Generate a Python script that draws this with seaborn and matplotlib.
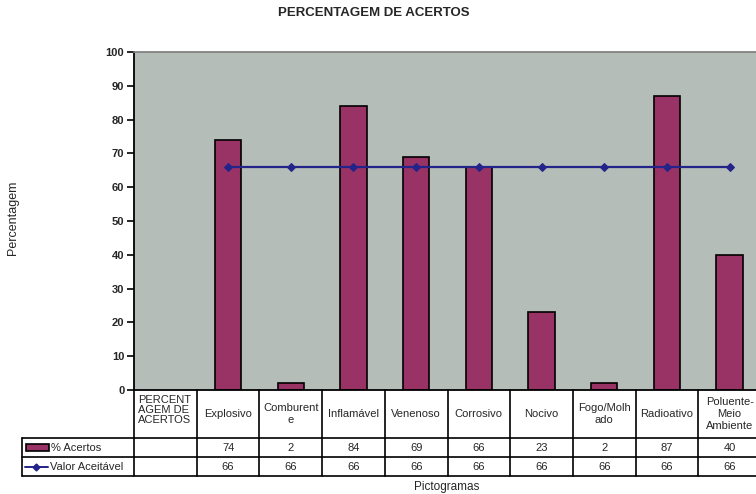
"""
Percentagem de acertos por pictograma - grafico de barras com tabela de dados.
"""
import numpy as np
import pandas as pd
import matplotlib
matplotlib.use("Agg")
import matplotlib.pyplot as plt
import seaborn as sns
from matplotlib.patches import Rectangle
from matplotlib.lines import Line2D

# Dados
categorias = [
    "PERCENTAGEM DE ACERTOS", "Explosivo", "Comburente", "Inflamável", "Venenoso",
    "Corrosivo", "Nocivo", "Fogo/Molhado", "Radioativo", "Poluente-Meio Ambiente",
]
rotulos_tabela = [
    "PERCENT\nAGEM DE\nACERTOS", "Explosivo", "Comburent\ne", "Inflamável", "Venenoso",
    "Corrosivo", "Nocivo", "Fogo/Molh\nado", "Radioativo", "Poluente-\nMeio\nAmbiente",
]
acertos = [np.nan, 74, 2, 84, 69, 66, 23, 2, 87, 40]
valor_aceitavel = [np.nan, 66, 66, 66, 66, 66, 66, 66, 66, 66]
series = ["% Acertos", "Valor Aceitável"]
yticks = [0, 10, 20, 30, 40, 50, 60, 70, 80, 90, 100]

COR_BARRA = "#9a3365"
COR_LINHA = "#23238a"
COR_FUNDO = "#b4bdb8"

sns.set_theme(style="ticks")
plt.rcParams["font.family"] = ["Liberation Sans", "DejaVu Sans"]

W, H = 756, 494
fig = plt.figure(figsize=(W / 100, H / 100), dpi=100)
# area do grafico em pixels: x 134..761, y 52..390
ax = fig.add_axes([134 / W, 1 - 390 / H, 627 / W, 338 / H])
ax.set_facecolor(COR_FUNDO)


def px(xp, yp):
    """pixel da figura -> fracao dos eixos"""
    return (xp - 134) / 627, (390 - yp) / 338


df = pd.DataFrame({"categoria": categorias, "acertos": acertos}).dropna()
sns.barplot(data=df, x="categoria", y="acertos", order=categorias,
            color=COR_BARRA, saturation=1, width=0.42,
            edgecolor="black", linewidth=1.2, ax=ax)

df_linha = pd.DataFrame({"pos": np.arange(len(categorias)),
                         "valor": valor_aceitavel}).dropna()
sns.lineplot(data=df_linha, x="pos", y="valor", color=COR_LINHA, lw=1.6,
             marker="D", markersize=4, markeredgecolor=COR_LINHA, ax=ax)

ax.set_xlim(-0.5, len(categorias) - 0.5)
ax.set_ylim(0, 100)
ax.set_yticks(yticks)
ax.set_xticks([])
ax.set_xlabel("")
ax.set_ylabel("")
ax.tick_params(axis="y", length=5, width=1.2, pad=2, labelsize=8, color="black")
for lbl in ax.get_yticklabels():
    lbl.set_fontweight("bold")
ax.spines["left"].set_linewidth(1.3)
ax.spines["left"].set_color("black")
ax.spines["bottom"].set_linewidth(1.3)
ax.spines["bottom"].set_color("black")
ax.spines["top"].set_color("#7f7f7f")
ax.spines["right"].set_visible(False)

# Tabela de dados
y_cab = px(0, 438)[1]
y_l1 = px(0, 457)[1]
y_l2 = px(0, 476)[1]
x_esq = px(22, 0)[0]
tr = ax.get_xaxis_transform()
kw = dict(color="black", lw=1.2, clip_on=False)
for i in range(len(categorias) + 1):
    ax.add_line(Line2D([i - 0.5, i - 0.5], [0, y_l2], transform=tr, **kw))
for yy in (y_cab, y_l1, y_l2):
    ax.add_line(Line2D([x_esq, 1.02], [yy, yy], transform=ax.transAxes, **kw))
ax.add_line(Line2D([x_esq, x_esq], [y_cab, y_l2], transform=ax.transAxes, **kw))

fs_tab = 8
y_txt_cab = (0 + y_cab) / 2
for i, rot in enumerate(rotulos_tabela):
    if i == 0:
        ax.text(i - 0.44, y_txt_cab + 0.012, rot, transform=tr, ha="left", va="center",
                fontsize=fs_tab, linespacing=1.05)
    else:
        ax.text(i, y_txt_cab, rot, transform=tr, ha="center", va="center",
                fontsize=fs_tab, linespacing=1.2)

for linha, (vals, y0, y1) in enumerate([(acertos, y_cab, y_l1), (valor_aceitavel, y_l1, y_l2)]):
    for i, v in enumerate(vals):
        if not np.isnan(v):
            ax.text(i, (y0 + y1) / 2, f"{v:.0f}", transform=tr, ha="center",
                    va="center", fontsize=fs_tab)

# chaves da legenda nas linhas da tabela
yc1 = (y_cab + y_l1) / 2
yc2 = (y_l1 + y_l2) / 2
rx0, _ = px(26, 0)
rx1, _ = px(49, 0)
ax.add_patch(Rectangle((rx0, yc1 - 0.01), rx1 - rx0, 0.02, transform=ax.transAxes,
                       facecolor=COR_BARRA, edgecolor="black", lw=1.2, clip_on=False))
ax.text(px(51, 0)[0], yc1, series[0], transform=ax.transAxes, ha="left", va="center",
        fontsize=fs_tab)
lx0, _ = px(25, 0)
lx1, _ = px(48, 0)
ax.add_line(Line2D([lx0, lx1], [yc2, yc2], transform=ax.transAxes, color=COR_LINHA,
                   lw=1.4, clip_on=False))
ax.add_line(Line2D([(lx0 + lx1) / 2], [yc2], transform=ax.transAxes, color=COR_LINHA,
                   marker="D", markersize=3.5, clip_on=False))
ax.text(px(50, 0)[0], yc2, series[1], transform=ax.transAxes, ha="left", va="center",
        fontsize=fs_tab)

# titulos
fig.text(374 / W, 1 - 13 / H, "PERCENTAGEM DE ACERTOS", ha="center", va="center",
         fontsize=9.5, fontweight="bold")
fig.text(13 / W, 1 - 218 / H, "Percentagem", rotation=90, ha="center", va="center",
         fontsize=9)
fig.text(447 / W, 1 - 487 / H, "Pictogramas", ha="center", va="center", fontsize=8.5)

fig.savefig("out.png", dpi=100)
